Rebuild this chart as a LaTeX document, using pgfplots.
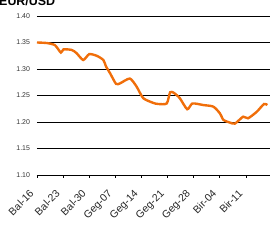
\documentclass[border=0pt]{standalone}
\usepackage{pgfplots}
\pgfplotsset{compat=1.18}
\usepackage{fontspec}
\setmainfont{Liberation Sans}
\definecolor{lineor}{RGB}{240,110,10}
\pgfplotstableread{
d v
0 1.350
2.6 1.349
4.8 1.345
6.4 1.331
7.1 1.337
9.3 1.336
10.6 1.330
12.4 1.317
14.0 1.328
16.0 1.325
17.8 1.317
18.5 1.305
19.6 1.292
21.2 1.272
22.3 1.273
24.9 1.282
26.7 1.267
28.5 1.245
31.2 1.236
32.5 1.234
34.8 1.235
35.7 1.256
36.7 1.255
38.3 1.245
40.3 1.224
41.7 1.235
44.6 1.232
47.3 1.229
49.1 1.216
50.0 1.204
51.7 1.199
53.1 1.197
55.3 1.210
56.6 1.207
58.9 1.219
60.9 1.234
61.8 1.232
}\eurusd
\begin{document}
\begin{tikzpicture}[x=1bp,y=1bp]
\begin{axis}[
  at={(37bp,73bp)}, anchor=south west,
  scale only axis, width=233bp, height=159bp,
  xmin=0, xmax=62.5, ymin=1.10, ymax=1.40,
  xtick={0,7,...,56},
  xticklabels={Bal-16,Bal-23,Bal-30,Geg-07,Geg-14,Geg-21,Geg-28,Bir-04,Bir-11},
  ytick={1.10,1.15,...,1.41},
  /pgf/number format/fixed,
  /pgf/number format/fixed zerofill,
  /pgf/number format/precision=2,
  /pgf/number format/assume math mode=true,
  yticklabel style={font=\fontsize{7}{8}\selectfont, text=black!80, xshift=-2bp},
  xticklabel style={font=\fontsize{10.5}{11}\selectfont, text=black!85, xshift=-8bp, yshift=-11bp, rotate=45, anchor=north east, inner sep=0pt},
  axis x line=bottom, axis y line=left,
  x axis line style={-, black, line width=0.6pt},
  y axis line style={draw=none},
  ytick style={draw=none},
  xtick style={black, line width=0.5pt},
  xtick align=outside,
  major tick length=3bp,
  ymajorgrids,
  grid style={black, line width=0.55pt},
  clip=false,
]
\addplot[lineor, line width=2.4pt, smooth, tension=0.4] table[x=d,y=v]{\eurusd};
\end{axis}
\node[anchor=base west, font=\bfseries\fontsize{12.5}{13}\selectfont, inner sep=0pt] at (-1bp,242bp) {EUR/USD};
\pgfresetboundingbox
\useasboundingbox (0,0) rectangle (272bp,248bp);
\end{tikzpicture}
\end{document}
